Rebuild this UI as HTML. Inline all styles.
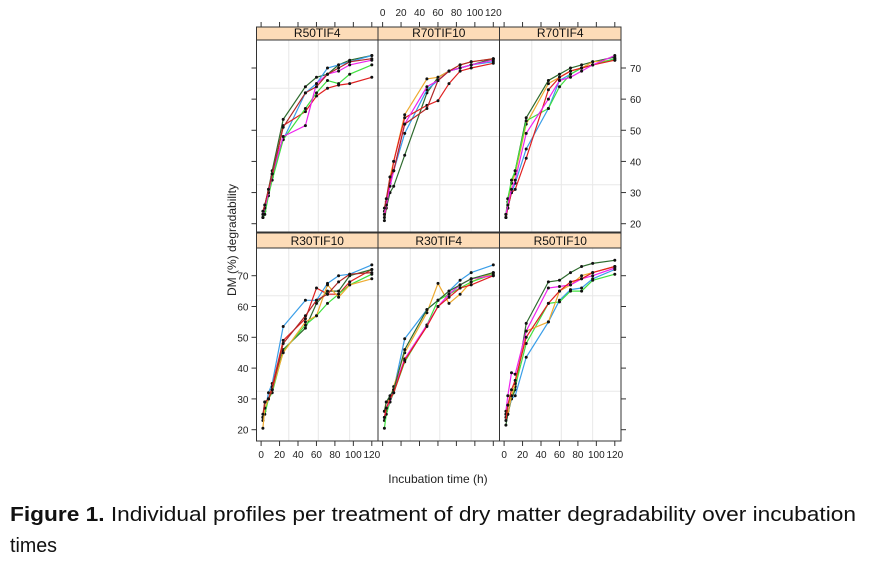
<!DOCTYPE html>
<html><head><style>
body{margin:0;background:#fff;width:886px;height:566px;overflow:hidden}
svg{display:block}
</style></head><body>
<svg id="s" width="886" height="566" xmlns="http://www.w3.org/2000/svg" font-family="Liberation Sans, sans-serif">
<g id="plots"></g>
<text x="438" y="483" font-size="12" text-anchor="middle" fill="#222">Incubation time (h)</text>
<text transform="translate(236,240) rotate(-90)" font-size="12" text-anchor="middle" fill="#222">DM (%) degradability</text>
<text x="10" y="521" font-size="20" fill="#111" textLength="846" lengthAdjust="spacingAndGlyphs"><tspan font-weight="bold">Figure 1.</tspan> Individual profiles per treatment of dry matter degradability over incubation</text>
<text x="10" y="552" font-size="20" fill="#111" textLength="47" lengthAdjust="spacingAndGlyphs">times</text>
</svg>
<script>
const T=[2,4,8,12,24,48,60,72,84,96,120];
const C={dg:"#2e6b2e",bl:"#3a9ee8",rd:"#e02020",gr:"#40e040",mg:"#ee22ee",or:"#eeaa30",dr:"#b02828"};
const P=[
{n:"R50TIF4",r:0,c:0,s:[["dg",[22,26,31,37,53.5,64,67,68,71,72.5,74]],["bl",[22,24,30,35,47,62,65,70,71,72,74]],["rd",[23,25,30,35,51.5,56,61,63.5,64.5,65,67]],["gr",[22,23,29,34,47,57,62,66,65,68,71]],["mg",[23,25,30,36,48,51.5,65,68,69,71,72.5]],["dr",[24,26,31,36,51,62,64,68,70,72,73]]]},
{n:"R70TIF10",r:0,c:1,s:[["dg",[21,25,30,32,42,62,67,69,70,71,73]],["bl",[24,26,33,37,49,63,66,69,70,71,72]],["or",[23,27,35,40,55,66.5,67,69,71,72,73]],["rd",[22,26,33,40,54,58,59.5,65,69,70,71.5]],["mg",[23,26,32,37,52,64,66,69,70,71,72.5]],["dr",[25,28,35,37,52,57,66,69,71,72,73]]]},
{n:"R70TIF4",r:0,c:2,s:[["dg",[22,28,33,37,54,66,68,70,71,72,73.5]],["bl",[22,25,30,33,44,57,66,68,70,71,73]],["or",[23,27,33,36,52,65,67,69,70,72,72.5]],["gr",[23,28,34,37,53,57,64,68,70,71,73]],["rd",[22,25,30,31,41,63,67,69,70,71,72.5]],["mg",[23,26,31,34,49,60,66,67,69,71,74]]]},
{n:"R30TIF10",r:1,c:0,s:[["bl",[24,26,32,35,53.5,62,62,67.5,70,70.5,73.5]],["rd",[24,29,30,34,49,56,66,64,64,68,72]],["dg",[23,29,30,33,46,53,61,65,65,70,72]],["gr",[24,25,30,32,45.5,54,57,61,64,67,70.5]],["or",[20.5,27,30,33,45,55,57,67,63,67,69]],["dr",[25,29,30,33,48,57,62,64,68,70.5,71]]]},
{n:"R30TIF4",r:1,c:1,s:[["bl",[23,26,30,33,49.5,59,62,65,68.5,71,73.5]],["or",[26,29,30,34,45,58,67.5,61,64,68,71]],["gr",[20.5,25,29,32,42,54,62,64,66,68,70.5]],["mg",[24,27,29,33,43,54,60,64,67,69,70]],["dg",[26,29,31,33,46,59,62,65,67,69,71]],["rd",[24,27,30,32,42.5,53.5,60,63,66,67,70]]]},
{n:"R50TIF10",r:1,c:2,s:[["dg",[21.5,25,30,33,54.5,68,68.5,71,73,74,75]],["bl",[24,26,30,31,43.5,55,62,65.5,66,69,72]],["gr",[25,28,31,34,48,61,61.5,65,65,68.5,70.5]],["or",[25,25,31,35,52,55,65,67,70,71,73]],["mg",[26,31,38.5,38,52,66,66.5,67,69,70,72.5]],["rd",[23,28,33,36,50,61,65,68,69,71,73]]]}
];
const L=[256.5,378,499.5],W=[121.5,121.5,121.5],R=621;
const rows=[{st:27,top:40,bot:232,y70:68,y20:223.7},{st:233,top:248,bot:441,y70:275.7,y20:429.7}];
let h="";
for(const p of P){
 const rw=rows[p.r],l=L[p.c],w=p.c==2?R-l:L[p.c+1]-l;
 const X=t=>l+4.6+t*0.9225, Y=v=>rw.y20-(v-20)*(rw.y20-rw.y70)/50;
 for(const t of [30,62,96]) h+=`<line x1="${X(t)}" x2="${X(t)}" y1="${rw.top}" y2="${rw.bot}" stroke="#e8e8e8"/>`;
 for(const v of [32.5,48,63.5]) h+=`<line x1="${l}" x2="${l+w}" y1="${Y(v)}" y2="${Y(v)}" stroke="#e8e8e8"/>`;
 for(const [c,d] of p.s){
  h+=`<polyline fill="none" stroke="${C[c]}" stroke-width="1.2" points="${d.map((v,i)=>X(T[i]).toFixed(1)+","+Y(v).toFixed(1)).join(" ")}"/>`;
  for(let i=0;i<d.length;i++) h+=`<circle cx="${X(T[i]).toFixed(1)}" cy="${Y(d[i]).toFixed(1)}" r="1.5" fill="#111"/>`;
 }
 h+=`<rect x="${l}" y="${rw.st}" width="${w}" height="${rw.top-rw.st}" fill="#fddcb8" stroke="#333"/>`;
 h+=`<text x="${l+w/2}" y="${rw.top-3}" font-size="12" text-anchor="middle" fill="#111">${p.n}</text>`;
 h+=`<rect x="${l}" y="${rw.st}" width="${w}" height="${rw.bot-rw.st}" fill="none" stroke="#333"/>`;
 // x ticks
 if(p.r==0){for(let t=0;t<=120;t+=20){h+=`<line x1="${X(t)}" x2="${X(t)}" y1="${rw.st-5}" y2="${rw.st}" stroke="#333"/>`;
   if(p.c==1)h+=`<text x="${X(t)}" y="${rw.st-11}" font-size="10" text-anchor="middle" fill="#222">${t}</text>`;}}
 else{for(let t=0;t<=120;t+=20){h+=`<line x1="${X(t)}" x2="${X(t)}" y1="${rw.bot}" y2="${rw.bot+5}" stroke="#333"/>`;
   if(p.c!=1)h+=`<text x="${X(t)}" y="${rw.bot+17}" font-size="10" text-anchor="middle" fill="#222">${t}</text>`;}}
 // y ticks
 for(let v=20;v<=70;v+=10){
  if(p.c==2){h+=`<line x1="${R}" x2="${R+5}" y1="${Y(v)}" y2="${Y(v)}" stroke="#333"/>`;
   if(p.r==0)h+=`<text x="${R+9}" y="${Y(v)+4}" font-size="10" fill="#222">${v}</text>`;}
  if(p.c==0){h+=`<line x1="${l-5}" x2="${l}" y1="${Y(v)}" y2="${Y(v)}" stroke="#333"/>`;
   if(p.r==1)h+=`<text x="${l-8}" y="${Y(v)+4}" font-size="10" text-anchor="end" fill="#222">${v}</text>`;}
 }
}
document.getElementById("plots").innerHTML=h;
</script>
</body></html>
